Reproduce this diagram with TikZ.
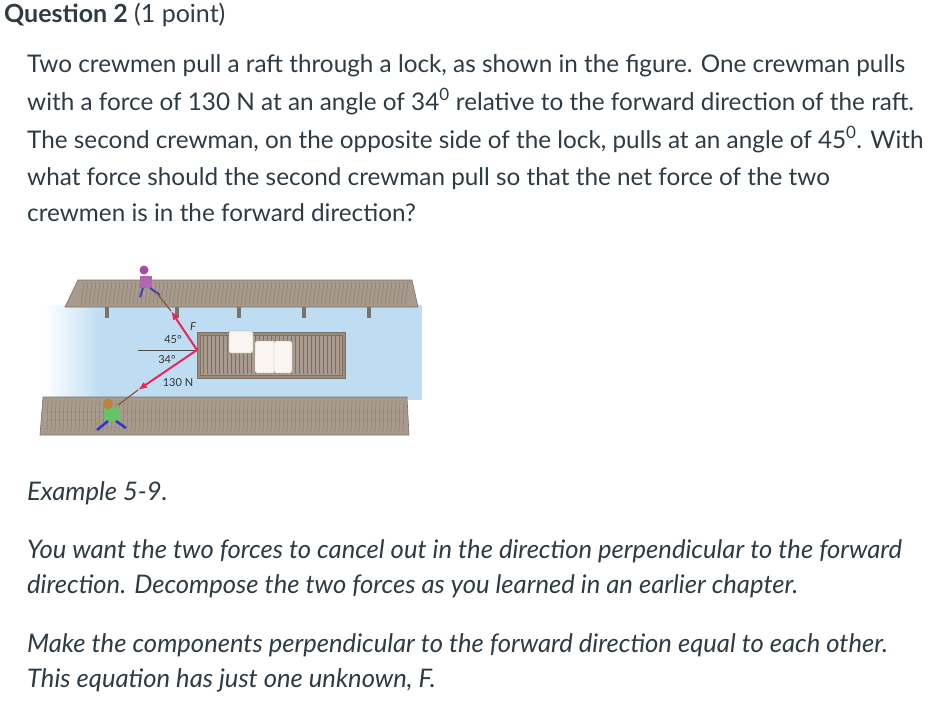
\documentclass[tikz,border=0pt]{standalone}
\usepackage{fontspec}
\setmainfont{Lato}
\usetikzlibrary{arrows.meta}
\definecolor{txt}{HTML}{2D3B45}
\definecolor{water}{HTML}{BFDDF2}
\definecolor{wood}{HTML}{A89A8C}
\definecolor{plank}{HTML}{7E7064}
\definecolor{frc}{HTML}{E8265A}
\tikzset{
 para/.style={anchor=base west,inner sep=0pt,font=\fontsize{24.3}{28}\selectfont,text=txt},
 ital/.style={para,font=\fontsize{25.6}{28}\selectfont\itshape},
 lbl/.style={inner sep=0pt,font=\fontsize{11}{13}\selectfont\rmfamily,text=black!80},
 force/.style={frc,line width=2pt,-{Latex[length=9pt,width=7pt]}},
 dock/.style={fill=wood,draw=plank,line width=0.6pt},
 box/.style={fill=white!92!brown,draw=gray!60,rounded corners=2pt}
}
\begin{document}
\begin{tikzpicture}[x=1pt,y=-1pt]
\useasboundingbox (0,0) rectangle (929,704);
\node[anchor=base west,inner sep=0pt,font=\fontsize{25}{28}\selectfont,text=txt] (q) at (4,23) {\textbf{Question 2} (1 point)};
\node[para] (l1) at (27,72) {Two crewmen pull a raft through a lock, as shown in the figure. One crewman pulls};
\node[para] (l2) at (27,110) {with a force of 130 N at an angle of 34\textsuperscript{0} relative to the forward direction of the raft.};
\node[para] (l3) at (27,148) {The second crewman, on the opposite side of the lock, pulls at an angle of 45\textsuperscript{0}. With};
\node[para] (l4) at (27,185) {what force should the second crewman pull so that the net force of the two};
\node[para] (l5) at (27,221) {crewmen is in the forward direction?};
\node[ital] (e1) at (27,500) {Example 5-9.};
\node[ital] (e2) at (27,558) {You want the two forces to cancel out in the direction perpendicular to the forward};
\node[ital] (e3) at (27,593) {direction. Decompose the two forces as you learned in an earlier chapter.};
\node[ital] (e4) at (27,652) {Make the components perpendicular to the forward direction equal to each other.};
\node[ital] (e5) at (27,687) {This equation has just one unknown, \textit{F}.};
% figure
\fill[water] (100,305) rectangle (422,400);
\shade[left color=white,right color=water] (45,305) rectangle (100.5,400);
\foreach \x in {105,175,237,302,367} \fill[plank] (\x,305) rectangle (\x+4,318);
\draw[dock] (78,280) -- (412,280) -- (418,307) -- (65,307) -- cycle;
\foreach \x in {84,88,...,410} \draw[plank,line width=0.3pt] (\x,282) -- (\x-3,305);
\draw[dock] (43,397) -- (407,397) -- (409,435) -- (40,435) -- cycle;
\foreach \x in {48,52,...,404} \draw[plank,line width=0.3pt] (\x,400) -- (\x-1,432);
% raft
\draw[dock,fill=wood!90!black] (197,332) rectangle (345,378);
\draw[dock] (200,335) rectangle (342,375);
\foreach \x in {203,207,...,340} \draw[plank,line width=0.3pt] (\x,336) -- (\x,374);
\node[box,minimum width=24,minimum height=22] (b1) at (241,342) {};
\node[box,minimum width=20,minimum height=32] (b2) at (265,357) {};
\node[box,minimum width=18,minimum height=32] (b3) at (283,357) {};
% people
\fill[violet!70] (144,270) circle (4.5);
\fill[violet!60!white] (140,276) rectangle (152,288);
\draw[blue!50!gray,line width=2pt] (143,288) -- (140,297) (150,288) -- (160,295);
\fill[green!60!black!60] (104,408) rectangle (120,421);
\fill[brown] (108,404) circle (5);
\draw[blue!60!gray,line width=2.5pt] (108,421) -- (97,430) (116,421) -- (126,428);
\coordinate (v) at (197,350);
\coordinate (ft) at (171,311);
\coordinate (nt) at (138,390);
\coordinate (h) at (138,350);
\draw[brown!70!black,line width=1.2pt] (ft) -- (156,292);
\draw[brown!70!black,line width=1.2pt] (nt) -- (118,405);
\draw[black!70,line width=0.5pt] (h) -- (v);
\draw[force] (v) -- (ft);
\draw[force] (v) -- (nt);
\node[lbl] (a45) at (173,340) {45°};
\node[lbl] (a34) at (167,360) {34°};
\node[lbl] (n130) at (178,383) {130 N};
\node[lbl,font=\fontsize{11}{13}\selectfont\itshape\rmfamily] (fl) at (193,327) {F};
\end{tikzpicture}
\end{document}
